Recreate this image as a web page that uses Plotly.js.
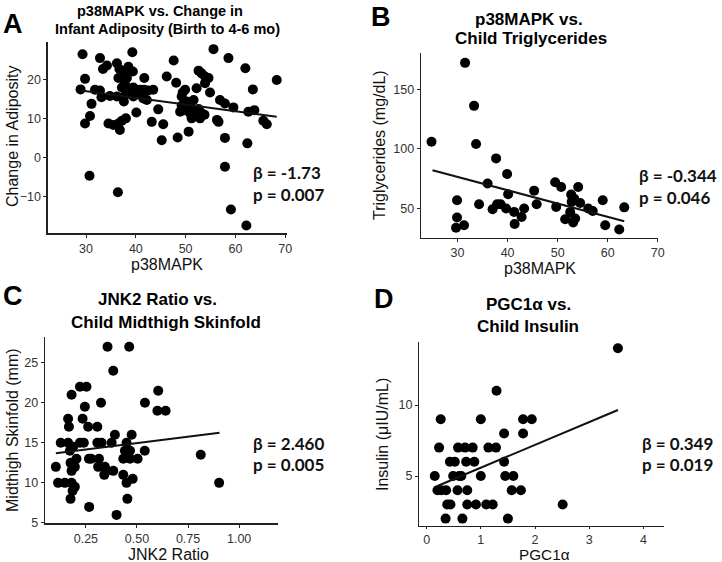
<!DOCTYPE html>
<html>
<head>
<meta charset="utf-8">
<script src="https://cdn.plot.ly/plotly-3.0.1.min.js"></script>
<style>html,body{margin:0;padding:0;background:#fff}#chart{width:722px;height:562px}</style>
</head>
<body>
<div id="chart"></div>
<script>
// ---------- Panel A: p38MAPK vs change in adiposity ----------
const aX = [29.3,29.8,28.9,31.1,30.8,29.8,32.8,34.2,33.4,31.8,32.8,33.1,34.8,36.2,36.7,37.6,38.5,39.3,38.2,36.5,
  37.8,39.4,37.2,38.5,39.5,40.2,40.9,41.7,42.5,43.5,41.7,37.6,38.5,39.5,40.9,41.5,42.2,37.6,36.2,40.1,
  38.0,37.2,36.5,35.5,34.5,36.8,44.5,43.2,45.5,46.2,47.6,48.1,49.2,49.4,49.9,50.2,49.2,48.9,49.9,50.6,
  51.0,51.6,51.9,52.2,52.6,53.2,53.9,54.6,53.9,54.9,53.2,52.9,51.2,50.9,55.6,58.6,56.9,57.9,59.6,56.6,
  56.3,62.0,63.5,63.8,62.6,65.6,66.3,68.3,52.6,53.8,45.2,48.4,50.6,57.9,62.4,30.7,36.4,57.9,59.1,62.2];
const aY = [26.4,20.1,17.4,13.7,10.6,8.7,25.4,23.5,22.6,17.3,17.1,15.4,15.7,24.1,22.6,22.0,23.2,26.9,20.3,20.3,
  19.4,22.0,17.9,17.7,17.9,17.3,17.3,17.3,17.1,17.3,20.3,15.6,16.4,15.6,16.2,15.1,14.7,14.3,15.6,11.5,
  10.0,9.4,8.7,8.3,8.7,7.0,12.3,9.1,8.5,20.7,24.8,19.1,15.6,16.6,17.3,14.3,13.2,11.7,12.1,12.6,
  13.4,14.7,11.3,17.7,22.2,21.5,20.7,20.3,19.0,16.6,11.3,10.0,10.0,11.3,27.7,25.4,14.7,13.8,12.8,9.1,
  9.6,22.8,17.4,12.1,11.7,9.4,8.5,19.8,12.4,10.9,4.4,5.1,6.6,5.0,3.6,-4.7,-8.9,-2.4,-13.3,-17.4];
const aFitX = [29.0, 68.3];
const aFitY = [17.1, 10.4];

// ---------- Panel B: p38MAPK vs child triglycerides ----------
const bX = [31.5,33.3,24.8,33.7,37.7,39.9,36.0,29.9,29.9,29.7,31.3,34.3,37.0,37.9,38.6,39.7,40.1,41.3,43.3,42.8,
  41.4,45.3,45.8,49.5,50.7,49.7,51.5,52.5,52.7,52.8,53.3,53.5,53.1,54.1,54.5,56.1,57.0,59.0,59.5,62.3,63.3];
const bY = [172,136,106,104,92,79,71,57,42.5,34,36,53.6,49.4,53.6,53.6,50,62,47.2,50,43,
  37,65,53.6,72,68,51.4,41,47,61.7,55.6,58.3,41.7,38.3,68,54.7,50,48,57,36,32.5,51];
const bFitX = [25.0, 63.3];
const bFitY = [82.0, 39.4];

// ---------- Panel C: JNK2 ratio vs child midthigh skinfold ----------
const cX = [0.356,0.462,0.384,0.18,0.221,0.253,0.324,0.245,0.539,0.604,0.60,0.64,0.163,0.234,0.167,0.261,0.306,0.392,0.474,
  0.127,0.163,0.221,0.24,0.306,0.327,0.376,0.449,0.188,0.204,0.175,0.196,0.18,0.103,0.265,0.276,0.314,0.31,0.343,
  0.35,0.384,0.34,0.441,0.466,0.433,0.466,0.503,0.538,0.433,0.449,0.479,0.453,0.266,0.40,0.114,0.147,0.18,0.185,
  0.196,0.175,0.812,0.902,0.172];
const cY = [27,27,24,21,22,22,20,19.5,20,21.5,19,19,18,18,17,17,17,16,16,
  15,15,15,15,15,15,15,15,14.5,13,12.5,12,11.5,12,13,13,13,12,12,
  11.5,11.5,11,14,14,13,13,13,14,11,10,10.5,8,7,6,10,10,10,9,
  9.5,8,13.5,10,14];
const cFitX = [0.103, 0.904];
const cFitY = [13.7, 16.25];

// ---------- Panel D: PGC1α vs child insulin ----------
const dX = [3.53,1.29,0.26,1.0,1.78,1.94,1.43,1.78,0.23,0.58,0.71,0.85,1.14,1.28,0.43,0.52,0.73,0.88,1.43,
  0.15,0.49,0.6,1.0,1.45,1.6,0.2,0.36,0.57,0.75,1.57,1.74,0.38,0.44,0.75,0.91,1.1,1.22,2.51,0.35,0.66,1.5,0.27,0.64];
const dY = [14,11,9,9,9,9,8,8,7,7,7,7,7,7,6,6,6,6,6,
  5,5,5,5,5,5,4,4,4,4,4,4,3,3,3,3,3,3,3,2,2,2,4,5];
const dFitX = [0.2, 3.53];
const dFitY = [4.3, 9.65];

// ---------- labels ----------
const panelLetters = ['A','B','C','D'];
const panelTitles = [
  ['p38MAPK vs. Change in','Infant Adiposity (Birth to 4-6 mo)'],
  ['p38MAPK vs.','Child Triglycerides'],
  ['JNK2 Ratio vs.','Child Midthigh Skinfold'],
  ['PGC1α vs.','Child Insulin']
];
const xTitles = ['p38MAPK','p38MAPK','JNK2 Ratio','PGC1α'];
const yTitles = ['Change in Adiposity','Triglycerides (mg/dL)','Midthigh Skinfold (mm)','Insulin (μIU/mL)'];
const betas = ['β = -1.73','β = -0.344','β = 2.460','β = 0.349'];
const pvals = ['p = 0.007','p = 0.046','p = 0.005','p = 0.019'];

const aXTicks = [30,40,50,60,70], aYTicks = [-10,0,10,20];
const bXTicks = [30,40,50,60,70], bYTicks = [50,100,150];
const cXTicks = [0.25,0.5,0.75,1.0], cXTickText = ['0.25','0.50','0.75','1.00'], cYTicks = [5,10,15,20,25];
const dXTicks = [0,1,2,3,4], dYTicks = [5,10];

// ---------- build ----------
const W = 722, H = 562;
const px = v => v / W, py = v => 1 - v / H;
const sets = [[aX,aY,aFitX,aFitY],[bX,bY,bFitX,bFitY],[cX,cY,cFitX,cFitY],[dX,dY,dFitX,dFitY]];
const traces = [];
sets.forEach((s, i) => {
  const xa = i === 0 ? 'x' : 'x' + (i + 1), ya = i === 0 ? 'y' : 'y' + (i + 1);
  traces.push({x: s[0], y: s[1], xaxis: xa, yaxis: ya, type: 'scatter', mode: 'markers',
    marker: {color: '#000', size: 10}, hoverinfo: 'x+y', showlegend: false, cliponaxis: false});
  traces.push({x: s[2], y: s[3], xaxis: xa, yaxis: ya, type: 'scatter', mode: 'lines',
    line: {color: '#111', width: 2}, hoverinfo: 'skip', showlegend: false});
});

const axBase = {showline: true, linecolor: '#222', linewidth: 1.3, ticks: 'outside', ticklen: 3,
  tickcolor: '#222', tickwidth: 1, showgrid: false, zeroline: false, fixedrange: true,
  tickfont: {family: 'Liberation Sans, Arial, sans-serif', size: 12.5, color: '#333'}};
const mk = (o) => Object.assign({}, axBase, o);

const layout = {
  width: W, height: H, margin: {l: 0, r: 0, t: 0, b: 0},
  paper_bgcolor: '#fff', plot_bgcolor: '#fff', showlegend: false,
  xaxis:  mk({domain: [px(47.7), px(286.7)], range: [22.3, 70.3], tickvals: aXTicks, anchor: 'y'}),
  yaxis:  mk({domain: [py(233.3), py(41.7)], range: [-19.4, 29.6], tickvals: aYTicks, anchor: 'x'}),
  xaxis2: mk({domain: [px(421), px(658.3)], range: [22.7, 70.1], tickvals: bXTicks, anchor: 'y2'}),
  yaxis2: mk({domain: [py(237.7), py(53.3)], range: [25.6, 180], tickvals: bYTicks, anchor: 'x2'}),
  xaxis3: mk({domain: [px(45), px(278)], range: [0.05, 1.19], tickvals: cXTicks, ticktext: cXTickText, anchor: 'y3'}),
  yaxis3: mk({domain: [py(523.3), py(336.7)], range: [4.95, 28.25], tickvals: cYTicks, anchor: 'x3'}),
  xaxis4: mk({domain: [px(419.3), px(664)], range: [-0.135, 4.38], tickvals: dXTicks, anchor: 'y4', ticklen: 2}),
  yaxis4: mk({domain: [py(526), py(341.7)], range: [1.48, 14.46], tickvals: dYTicks, anchor: 'x4'}),
  annotations: []
};

const ann = (text, x, y, font, extra) => layout.annotations.push(Object.assign({
  text: text, x: px(x), y: py(y), xref: 'paper', yref: 'paper', showarrow: false,
  xanchor: 'center', yanchor: 'middle', font: font}, extra || {}));

const fTitle = s => ({family: 'Liberation Sans, Arial, sans-serif', size: s, color: '#000', weight: 'bold'});
const fAxis = {family: 'Liberation Sans, Arial, sans-serif', size: 16, color: '#111'};
const fLetter = {family: 'Liberation Sans, Arial, sans-serif', size: 27, color: '#000', weight: 'bold'};
const fStat = {family: 'Lato, Open Sans, sans-serif', size: 17, color: '#111', weight: 'bold'};

// letters
ann(panelLetters[0], 13, 24, fLetter);
ann(panelLetters[1], 381, 17, fLetter);
ann(panelLetters[2], 13, 296, fLetter);
ann(panelLetters[3], 384, 299, fLetter);
// titles
ann('<b>' + panelTitles[0][0] + '</b>', 160, 11, fTitle(14.5));
ann('<b>' + panelTitles[0][1] + '</b>', 167, 29, fTitle(14.5));
ann('<b>' + panelTitles[1][0] + '</b>', 529, 19, fTitle(17));
ann('<b>' + panelTitles[1][1] + '</b>', 531, 39, fTitle(17));
ann('<b>' + panelTitles[2][0] + '</b>', 157, 300, fTitle(17));
ann('<b>' + panelTitles[2][1] + '</b>', 166, 322, fTitle(17));
ann('<b>' + panelTitles[3][0] + '</b>', 528, 304, fTitle(17));
ann('<b>' + panelTitles[3][1] + '</b>', 528, 326, fTitle(17));
// axis titles
ann(xTitles[0], 167, 264, fAxis);
ann(xTitles[1], 540, 268, fAxis);
ann(xTitles[2], 168, 554, fAxis);
ann(xTitles[3], 544, 554.3, Object.assign({}, fAxis, {size: 15.3}));
ann(yTitles[0], 13, 137, fAxis, {textangle: -90});
ann(yTitles[1], 379, 145, fAxis, {textangle: -90});
ann(yTitles[2], 12, 430, fAxis, {textangle: -90});
ann(yTitles[3], 382, 435, fAxis, {textangle: -90});
// stats
const statPos = [[251,173,194],[637,175,197],[251,443,464],[640,443,464]];
statPos.forEach((p, i) => {
  ann('<b>' + betas[i] + '</b>', p[0], p[1], fStat, {xanchor: 'left'});
  ann('<b>' + pvals[i] + '</b>', p[0], p[2], fStat, {xanchor: 'left'});
});

Plotly.newPlot('chart', traces, layout, {staticPlot: true, displayModeBar: false});
</script>
</body>
</html>
